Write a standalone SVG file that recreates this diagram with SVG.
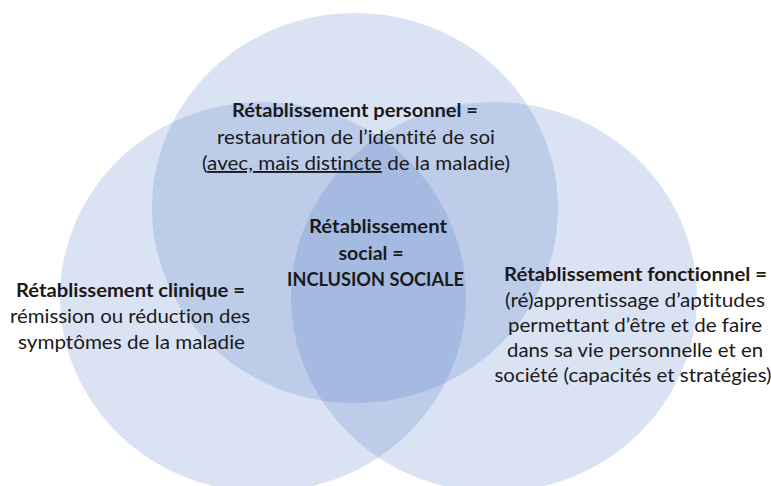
<svg xmlns="http://www.w3.org/2000/svg" width="771" height="486" viewBox="0 0 771 486">
<style>
.c{fill:#4472C4;fill-opacity:0.2;stroke:none}
text{font-family:Lato,"Open Sans","Liberation Sans",sans-serif;font-size:19px;fill:#1a1a1a;text-anchor:middle;font-variant-ligatures:none}
.b{font-weight:bold}
.u{text-decoration:underline}
</style>
<rect width="771" height="486" fill="#ffffff"/>
<g id="circle-personnel"><ellipse class="c" cx="355" cy="208" rx="203" ry="195"/></g>
<g id="circle-clinique"><ellipse class="c" cx="263" cy="297" rx="203" ry="195"/></g>
<g id="circle-fonctionnel"><ellipse class="c" cx="494" cy="297" rx="203" ry="195"/></g>
<g id="connectors"></g>
<g id="label-personnel">
<text class="b" x="355" y="117" textLength="246" lengthAdjust="spacingAndGlyphs">Rétablissement personnel =</text>
<text x="356" y="143.5" textLength="278" lengthAdjust="spacingAndGlyphs">restauration de l’identité de soi</text>
<text x="356" y="170" textLength="308" lengthAdjust="spacingAndGlyphs">(<tspan class="u">avec, mais distincte</tspan> de la maladie)</text>
</g>
<g id="label-social">
<text class="b" x="378" y="233" textLength="138" lengthAdjust="spacingAndGlyphs">Rétablissement</text>
<text class="b" x="371" y="259.5" textLength="65" lengthAdjust="spacingAndGlyphs">social =</text>
<text class="b" x="375.5" y="286" textLength="177" lengthAdjust="spacingAndGlyphs">INCLUSION SOCIALE</text>
</g>
<g id="label-clinique">
<text class="b" x="130.5" y="297" textLength="229" lengthAdjust="spacingAndGlyphs">Rétablissement clinique =</text>
<text x="130" y="323" textLength="240" lengthAdjust="spacingAndGlyphs">rémission ou réduction des</text>
<text x="131.5" y="349" textLength="227" lengthAdjust="spacingAndGlyphs">symptômes de la maladie</text>
</g>
<g id="label-fonctionnel">
<text class="b" x="635.5" y="281" textLength="263" lengthAdjust="spacingAndGlyphs">Rétablissement fonctionnel =</text>
<text x="635" y="306.5" textLength="260" lengthAdjust="spacingAndGlyphs">(ré)apprentissage d’aptitudes</text>
<text x="635" y="332" textLength="254" lengthAdjust="spacingAndGlyphs">permettant d’être et de faire</text>
<text x="635" y="357" textLength="256" lengthAdjust="spacingAndGlyphs">dans sa vie personnelle et en</text>
<text x="633" y="382" textLength="277" lengthAdjust="spacingAndGlyphs">société (capacités et stratégies)</text>
</g>
</svg>
